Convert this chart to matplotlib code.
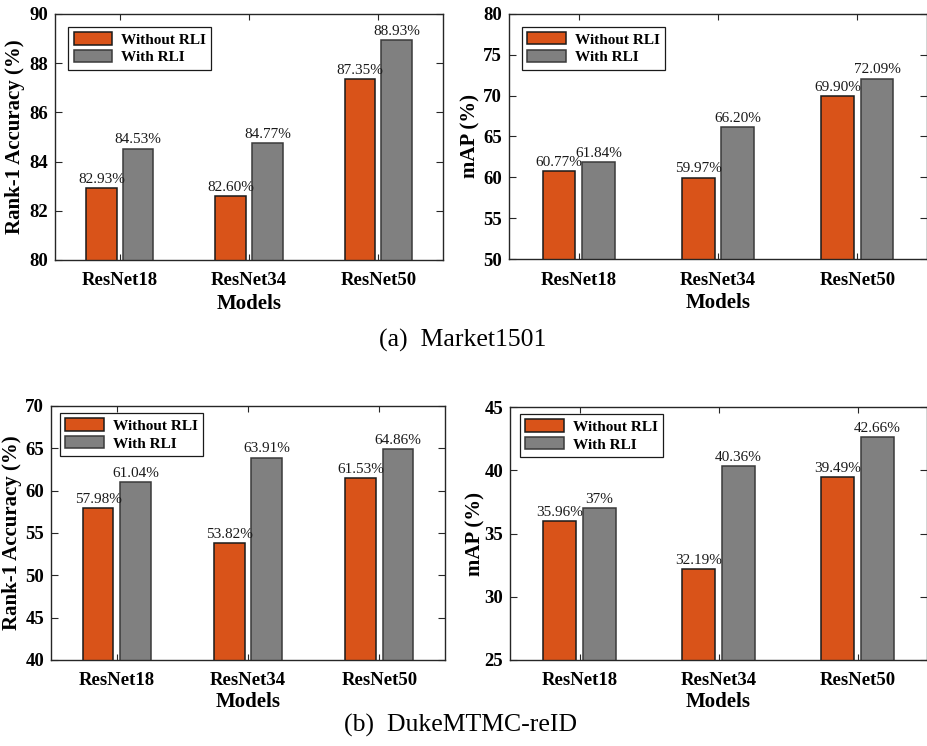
import numpy as np
import matplotlib.pyplot as plt

plt.rcParams['font.family'] = ['Liberation Serif', 'DejaVu Serif']

models = ['ResNet18', 'ResNet34', 'ResNet50']
series_names = ['Without RLI', 'With RLI']

# Market1501
market_rank1_without = [82.93, 82.60, 87.35]
market_rank1_with = [84.53, 84.77, 88.93]
market_map_without = [60.77, 59.97, 69.90]
market_map_with = [61.84, 66.20, 72.09]

# DukeMTMC-reID
duke_rank1_without = [57.98, 53.82, 61.53]
duke_rank1_with = [61.04, 63.91, 64.86]
duke_map_without = [35.96, 32.19, 39.49]
duke_map_with = [37.0, 40.36, 42.66]

market_rank1_ticks = [80, 82, 84, 86, 88, 90]
market_map_ticks = [50, 55, 60, 65, 70, 75, 80]
duke_rank1_ticks = [40, 45, 50, 55, 60, 65, 70]
duke_map_ticks = [25, 30, 35, 40, 45]

duke_map_labels = ['35.96%', '32.19%', '39.49%']
duke_map_with_labels = ['37%', '40.36%', '42.66%']

orange = '#D95319'
gray = '#808080'
frame = '#262626'


def draw_panel(ax, without, with_, yticks, ylabel, without_labels=None,
               with_labels=None, ylabel_x=-0.1, xlabel_y=-0.14,
               legend_xy=(0.03, 0.95)):
    x = np.arange(1, len(models) + 1)
    w = 0.235
    off = 0.142
    b1 = ax.bar(x - off, without, w, color=orange,
                edgecolor='#1a1a1a', linewidth=1.1, label=series_names[0])
    b2 = ax.bar(x + off, with_, w, color=gray,
                edgecolor='#3a3a3a', linewidth=1.1, label=series_names[1])
    if without_labels is None:
        without_labels = ['%.2f%%' % v for v in without]
    if with_labels is None:
        with_labels = ['%.2f%%' % v for v in with_]
    for bars, labels in ((b1, without_labels), (b2, with_labels)):
        for bar, lab in zip(bars, labels):
            ax.annotate(lab, (bar.get_x() + bar.get_width() / 2, bar.get_height()),
                        xytext=(0, 1.5), textcoords='offset points',
                        ha='center', va='bottom', fontsize=11, color='#1a1a1a')

    ax.set_xlim(0.5, 3.5)
    ax.set_ylim(yticks[0], yticks[-1])
    ax.set_yticks(yticks)
    ax.set_xticks(x)
    ax.set_xticklabels(models)
    for lab in ax.get_xticklabels() + ax.get_yticklabels():
        lab.set_fontweight('bold')
    ax.tick_params(axis='both', direction='in', top=True, right=True,
                   labelsize=13.5, color=frame, width=0.8)
    ax.tick_params(axis='y', length=5, pad=5)
    ax.tick_params(axis='x', length=4, pad=9)
    for s in ax.spines.values():
        s.set_color(frame)
        s.set_linewidth(1.0)

    # ylabel anchor is the right edge of the rotated text
    ax.set_ylabel(ylabel, fontsize=15, fontweight='bold')
    ax.yaxis.set_label_coords(ylabel_x, 0.5)
    ax.set_xlabel('Models', fontsize=15, fontweight='bold')
    ax.xaxis.set_label_coords(0.5, xlabel_y)

    leg = ax.legend(loc='upper left', bbox_to_anchor=legend_xy,
                    prop={'size': 11, 'weight': 'bold'}, fancybox=False,
                    framealpha=1, edgecolor='#1a1a1a', handlelength=2.5,
                    handleheight=0.85, labelspacing=0.22, borderpad=0.35,
                    handletextpad=0.6, borderaxespad=0)
    leg.get_frame().set_linewidth(0.9)


fig = plt.figure(figsize=(9.28, 7.46), dpi=100)

ax1 = fig.add_axes([0.0593, 0.6515, 0.418, 0.3298])
ax2 = fig.add_axes([0.5485, 0.6528, 0.4504, 0.3285])
ax3 = fig.add_axes([0.0550, 0.1153, 0.4246, 0.3405])
ax4 = fig.add_axes([0.5496, 0.1153, 0.4494, 0.3391])

draw_panel(ax1, market_rank1_without, market_rank1_with, market_rank1_ticks,
           'Rank-1 Accuracy (%)', ylabel_x=-0.077, xlabel_y=-0.14,
           legend_xy=(0.034, 0.947))
draw_panel(ax2, market_map_without, market_map_with, market_map_ticks,
           'mAP (%)', ylabel_x=-0.069, xlabel_y=-0.14,
           legend_xy=(0.031, 0.947))
draw_panel(ax3, duke_rank1_without, duke_rank1_with, duke_rank1_ticks,
           'Rank-1 Accuracy (%)', ylabel_x=-0.074, xlabel_y=-0.125,
           legend_xy=(0.023, 0.972))
draw_panel(ax4, duke_map_without, duke_map_with, duke_map_ticks,
           'mAP (%)', without_labels=duke_map_labels,
           with_labels=duke_map_with_labels, ylabel_x=-0.06,
           xlabel_y=-0.125, legend_xy=(0.024, 0.972))

fig.text(0.4985, 1 - 340 / 746, '(a)  Market1501', ha='center', va='center',
         fontsize=18.5)
fig.text(0.4960, 1 - 725 / 746, '(b)  DukeMTMC-reID', ha='center', va='center',
         fontsize=18.5)

fig.savefig('out.png', dpi=100)
